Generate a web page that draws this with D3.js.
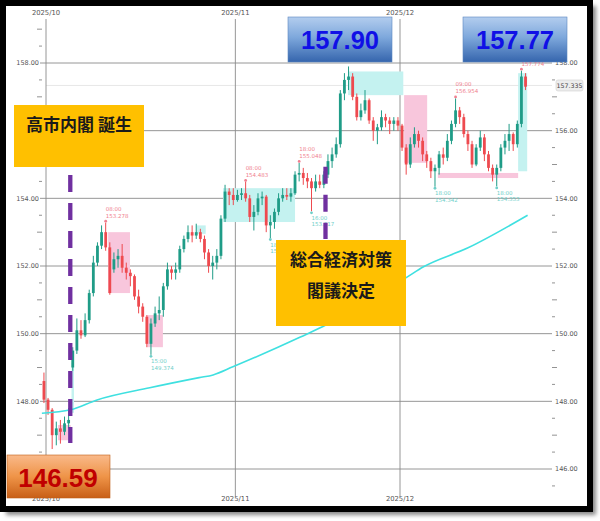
<!DOCTYPE html>
<html><head><meta charset="utf-8">
<script src="https://cdn.jsdelivr.net/npm/d3@7"></script>
<style>body{margin:0;background:#fff}svg{display:block}</style>
</head><body><svg id="c" width="600" height="521"></svg>
<script>
// ---------------- DATA ----------------
// half-day candles (trading-day units), first candle starts Sep 30 12:00
const candleStart = -0.5;
const candleStep = 0.5;
const opens  = [148.60,148.05,147.75,147.00,147.20,147.10,147.35,149.00,149.50,150.10,
                149.95,150.40,151.20,152.10,152.60,153.00,152.55,151.90,152.20,152.30,
                151.95,151.80,151.70,151.10,150.80,150.50,149.70,150.30,150.60,150.70,
                151.40,151.90,151.80,151.90,152.50,152.80,153.00,152.90,153.00,152.80,
                152.40,152.00,152.10,152.30,153.40,154.20,154.10,153.95,154.10,154.15,
                154.00,153.45,153.60,154.00,154.05,153.20,153.30,153.60,154.00,154.10,
                154.05,154.15,154.70,154.75,154.60,154.50,154.30,154.50,154.40,154.70,
                155.10,155.30,155.60,157.10,157.50,157.60,157.00,156.40,156.60,156.90,
                156.30,156.00,156.10,156.40,156.30,156.20,156.30,156.15,155.50,155.00,
                155.60,155.90,155.70,155.30,155.10,154.80,154.90,155.30,155.20,155.70,
                156.20,156.60,156.40,155.90,155.60,155.00,155.50,155.80,155.30,154.90,
                154.70,154.90,155.50,155.70,155.90,155.60,156.20,157.60];
const highs  = [148.85,148.10,147.80,147.40,147.45,147.55,147.80,149.60,150.45,150.40,
                150.60,151.30,152.30,152.70,153.20,153.278,152.70,152.40,152.50,152.65,
                152.10,151.90,151.75,151.30,150.90,150.55,150.45,150.80,151.10,151.50,
                152.10,152.00,152.10,152.60,152.90,153.20,153.20,153.25,153.10,152.90,
                152.50,152.30,152.50,153.50,154.40,154.30,154.30,154.25,154.30,154.483,
                154.10,153.80,154.15,154.20,154.10,153.50,153.70,154.15,154.30,154.30,
                154.30,154.80,155.048,154.90,154.75,154.60,154.70,154.70,154.80,155.30,
                155.50,155.80,157.20,157.70,157.898,157.70,157.10,156.80,157.20,156.95,
                156.40,156.20,156.60,156.50,156.40,156.40,156.40,156.20,155.60,155.80,
                156.10,156.00,155.80,155.40,155.20,155.00,155.40,155.50,155.90,156.30,
                156.954,156.70,156.50,156.00,155.70,155.60,156.00,155.90,155.40,155.00,
                155.00,155.60,155.90,156.20,155.95,156.30,157.774,157.70];
const lows   = [147.95,147.60,146.59,146.70,146.75,147.00,147.20,148.90,149.40,149.85,
                149.90,150.30,151.10,152.00,152.50,152.45,151.15,151.80,151.95,151.80,
                151.60,151.40,151.00,150.60,150.35,149.60,149.374,150.20,150.40,150.50,
                151.30,151.60,151.60,151.80,152.40,152.70,152.70,152.80,152.70,152.20,
                151.80,151.60,151.90,152.20,153.30,153.80,153.80,153.90,153.95,153.90,
                153.30,153.05,153.50,153.80,153.00,152.827,153.10,153.50,153.90,153.95,
                153.90,154.10,154.50,154.40,154.30,153.617,154.20,154.30,154.30,154.60,
                154.90,155.20,155.50,156.90,157.20,156.90,156.30,156.30,156.50,156.20,
                155.70,155.60,156.00,156.10,155.90,156.00,156.00,155.40,154.70,154.90,
                155.50,155.50,155.10,154.90,154.60,154.342,154.70,155.00,155.10,155.60,
                156.10,156.20,155.80,155.40,154.90,154.95,155.40,155.10,154.80,154.50,
                154.353,154.80,155.30,155.40,155.40,155.50,156.10,157.20];
const closes = [148.05,147.75,147.00,147.20,147.10,147.35,147.45,149.50,150.10,149.95,
                150.40,151.20,152.10,152.60,153.00,152.55,151.20,152.20,152.30,151.95,
                151.80,151.70,151.10,150.80,150.50,149.70,150.30,150.60,150.70,151.40,
                151.90,151.80,151.90,152.50,152.80,153.00,152.90,153.00,152.80,152.40,
                152.00,152.10,152.30,153.40,154.20,154.10,153.95,154.10,154.15,154.00,
                153.45,153.60,154.00,154.05,153.20,153.30,153.60,154.00,154.10,154.05,
                154.15,154.70,154.75,154.60,154.50,154.30,154.50,154.40,154.70,155.10,
                155.30,155.60,157.10,157.50,157.60,157.00,156.40,156.60,156.90,156.30,
                156.00,156.10,156.40,156.30,156.20,156.30,156.15,155.50,155.00,155.60,
                155.90,155.70,155.30,155.10,154.80,154.90,155.30,155.20,155.70,156.20,
                156.60,156.40,155.90,155.60,155.00,155.50,155.80,155.30,154.90,154.70,
                154.90,155.50,155.70,155.90,155.60,156.20,157.60,157.30];

// moving average (trading-day position, value)
const maDays   = [-0.5, 3.0, 6.2, 12.6, 18.6, 20.3, 22.7, 30.9, 34.1, 38.9, 43.9, 45.8, 51.2, 58.5];
const maValues = [147.65,147.75,148.04,148.40,148.70,148.78,149.02,149.90,150.27,150.95,151.68,151.97,152.53,153.50];

// month gridlines
const monthLabels = ["2025/10","2025/11","2025/12"];
const monthDays   = [0, 23, 43];

// price ticks (left labels under the callout boxes are not visible)
const majorTicks = [146,148,150,152,154,156,158];
const leftLabelTicks = [148,150,152,154,158];
const minorTicks = [145.5,146.5,147,147.5,148.5,149,149.5,150.5,151,151.5,152.5,153,153.5,154.5,155,155.5,156.5,157,157.5,158.5,159];
const currentPrice = 157.335;

// marked highs / lows
const extIdx  = [15, 26, 49, 55, 62, 65, 95, 100, 110, 116];
const extType = ["H","L","H","L","H","L","L","H","L","H"];
const extTime = ["08:00","15:00","08:00","18:00","18:00","16:00","18:00","09:00","18:00","22:00"];

// shaded zones: [startDay, endDay, top, bottom]
const zoneStart = [1.45, 3.1, 7.55, 12.3, 18.2, 21.5, 36.7, 43.5, 47.6, 57.35];
const zoneEnd   = [3.0, 3.4, 10.2, 14.2, 19.4, 30.25, 43.4, 46.3, 57.35, 58.45];
const zoneTop   = [147.30,149.14,153.00,150.55,153.20,154.30,157.75,157.05,154.75,157.70];
const zoneBot   = [146.85,147.66,151.20,149.60,152.95,153.30,157.05,155.05,154.60,154.80];
const zoneKind  = ["pink","cyan","pink","pink","cyan","cyan","cyan","pink","pink","cyan"];

// event lines (trading-day position, top price, bottom price)
const eventDays = [2.95, 33.95];
const eventTop  = [154.69, 154.93];
const eventBot  = [146.77, 152.80];

// ---------------- DRAW ----------------
const svg = d3.select("#c");
const defs = svg.append("defs");
const sh = defs.append("filter").attr("id","sh").attr("x","-5%").attr("y","-5%").attr("width","110%").attr("height","110%");
sh.append("feGaussianBlur").attr("stdDeviation", 2.2);
const gBlue = defs.append("linearGradient").attr("id","gb").attr("x1",0).attr("y1",0).attr("x2",0).attr("y2",1);
gBlue.append("stop").attr("offset","0%").attr("stop-color","#b3cdee");
gBlue.append("stop").attr("offset","45%").attr("stop-color","#7ea8dc");
gBlue.append("stop").attr("offset","100%").attr("stop-color","#3565ad");
const gOr = defs.append("linearGradient").attr("id","go").attr("x1",0).attr("y1",0).attr("x2",0).attr("y2",1);
gOr.append("stop").attr("offset","0%").attr("stop-color","#f9b98a");
gOr.append("stop").attr("offset","50%").attr("stop-color","#ef9448");
gOr.append("stop").attr("offset","100%").attr("stop-color","#c85f17");

// frame with shadow
svg.append("rect").attr("x",6).attr("y",6).attr("width",590).attr("height",509).attr("fill","#888").attr("filter","url(#sh)");
svg.append("rect").attr("x",3).attr("y",3).attr("width",587).attr("height",506).attr("fill","#fff").attr("stroke","#000").attr("stroke-width",6);

const x = d3.scaleLinear().domain([0, 43]).range([46, 400]);
const y = d3.scaleLinear().domain([146, 158]).range([469, 63]);
const plotL = 40, plotR = 552, plotT = 19, plotB = 496;
const font = "DejaVu Sans, sans-serif";

// gridlines
svg.append("g").selectAll("line").data(majorTicks).join("line")
  .attr("x1", plotL).attr("x2", plotR).attr("y1", d => y(d)).attr("y2", d => y(d))
  .attr("stroke", "#8a8a8a").attr("stroke-width", 0.9);
svg.append("line").attr("x1", plotL+6).attr("x2", plotR).attr("y1", y(currentPrice)).attr("y2", y(currentPrice))
  .attr("stroke", "#e2e2e2").attr("stroke-width", 0.8);
svg.append("g").selectAll("line").data(monthDays).join("line")
  .attr("x1", d => x(d)).attr("x2", d => x(d)).attr("y1", plotT).attr("y2", plotB)
  .attr("stroke", "#8a8a8a").attr("stroke-width", 0.9);

// minor ticks
const isWhole = d => Math.abs(d - Math.round(d)) < 1e-6;
svg.append("g").selectAll("line").data(minorTicks).join("line")
  .attr("x1", d => isWhole(d) ? 37 : 39).attr("x2", 42)
  .attr("y1", d => y(d)).attr("y2", d => y(d)).attr("stroke", "#777").attr("stroke-width", 0.8);
svg.append("g").selectAll("line").data(minorTicks).join("line")
  .attr("x1", 552).attr("x2", d => isWhole(d) ? 557 : 555)
  .attr("y1", d => y(d)).attr("y2", d => y(d)).attr("stroke", "#777").attr("stroke-width", 0.8);

// tick labels
svg.append("g").selectAll("text").data(leftLabelTicks).join("text")
  .attr("x", 39).attr("y", d => y(d)).attr("dy", "0.35em").attr("text-anchor", "end")
  .attr("font-family", font).attr("font-size", 6.5).attr("fill", "#555").text(d => d.toFixed(2));
svg.append("g").selectAll("text").data(majorTicks).join("text")
  .attr("x", 555).attr("y", d => y(d)).attr("dy", "0.35em").attr("text-anchor", "start")
  .attr("font-family", font).attr("font-size", 6.5).attr("fill", "#555").text(d => d.toFixed(2));
[15, 501].forEach(yy => {
  svg.append("g").selectAll("text").data(monthDays).join("text")
    .attr("x", d => x(d)).attr("y", yy).attr("text-anchor", "middle")
    .attr("font-family", font).attr("font-size", 6.8).attr("fill", "#555")
    .text((d, i) => monthLabels[i]);
});

// zones
const zoneFill = {pink: "#f8c6dc", cyan: "#c4f2f0"};
svg.append("g").selectAll("rect").data(zoneStart).join("rect")
  .attr("x", (d, i) => x(d)).attr("width", (d, i) => x(zoneEnd[i]) - x(d))
  .attr("y", (d, i) => y(zoneTop[i])).attr("height", (d, i) => y(zoneBot[i]) - y(zoneTop[i]))
  .attr("fill", (d, i) => zoneFill[zoneKind[i]]);

// candles
const candles = closes.map((c, i) => ({t: candleStart + i * candleStep + candleStep / 2, o: opens[i], h: highs[i], l: lows[i], c}));
const bw = (x(candleStep) - x(0)) * 0.68;
const up = "#1f9c87", dn = "#ee4a4f";
const gc = svg.append("g");
gc.selectAll("line").data(candles).join("line")
  .attr("x1", d => x(d.t)).attr("x2", d => x(d.t)).attr("y1", d => y(d.h)).attr("y2", d => y(d.l))
  .attr("stroke", d => d.c >= d.o ? up : dn).attr("stroke-width", 1);
gc.selectAll("rect").data(candles).join("rect")
  .attr("x", d => x(d.t) - bw / 2).attr("width", bw)
  .attr("y", d => y(Math.max(d.o, d.c))).attr("height", d => Math.max(1, Math.abs(y(d.o) - y(d.c))))
  .attr("fill", d => d.c >= d.o ? up : dn);

// moving average
svg.append("path").datum(maDays.map((d, i) => [d, maValues[i]]))
  .attr("d", d3.line().x(d => x(d[0])).y(d => y(d[1])).curve(d3.curveMonotoneX))
  .attr("fill", "none").attr("stroke", "#3fe0e0").attr("stroke-width", 1.6);

// extreme markers + labels
const ge = svg.append("g");
extIdx.forEach((k, i) => {
  const d = candles[k];
  const isH = extType[i] === "H";
  const v = isH ? d.h : d.l;
  const col = isH ? "#f07f8f" : "#6fcfc9";
  const yy = y(v);
  ge.append("circle").attr("cx", x(d.t)).attr("cy", isH ? yy - 1.5 : yy + 1.5).attr("r", 1.4).attr("fill", col);
  const ty1 = isH ? yy - 12 : yy + 8.5, ty2 = isH ? yy - 5 : yy + 15;
  ge.append("text").attr("x", x(d.t)).attr("y", ty1).attr("font-family", font).attr("font-size", 5.5)
    .attr("fill", col).text(extTime[i]);
  ge.append("text").attr("x", x(d.t)).attr("y", ty2).attr("font-family", font).attr("font-size", 5.5)
    .attr("fill", col).text(v.toFixed(3));
});

// event dashed lines
svg.append("g").selectAll("line").data(eventDays).join("line")
  .attr("x1", d => x(d)).attr("x2", d => x(d))
  .attr("y1", (d, i) => y(eventTop[i])).attr("y2", (d, i) => y(eventBot[i]))
  .attr("stroke", "#7030a0").attr("stroke-width", 4.3).attr("stroke-dasharray", "17,11");

// current price tag
svg.append("rect").attr("x", 556).attr("y", y(currentPrice) - 5.5).attr("width", 27).attr("height", 11).attr("rx", 2)
  .attr("fill", "#ededed").attr("stroke", "#cfcfcf").attr("stroke-width", 0.6);
svg.append("text").attr("x", 569.5).attr("y", y(currentPrice)).attr("dy", "0.35em").attr("text-anchor", "middle")
  .attr("font-family", font).attr("font-size", 6.3).attr("fill", "#444").text(currentPrice.toFixed(3));

// callouts
const jp = "'Noto Sans CJK JP', 'Noto Sans CJK SC', sans-serif";
svg.append("rect").attr("x", 14).attr("y", 105).attr("width", 130).attr("height", 62).attr("fill", "#ffc000");
svg.append("text").attr("x", 79).attr("y", 125).attr("dy", "0.36em").attr("text-anchor", "middle")
  .attr("font-family", jp).attr("font-weight", 700).attr("font-size", 17).attr("fill", "#1a1a1a").text("高市内閣 誕生");

svg.append("rect").attr("x", 276).attr("y", 240).attr("width", 130).attr("height", 86).attr("fill", "#ffc000");
svg.append("text").attr("x", 341).attr("y", 259.5).attr("dy", "0.36em").attr("text-anchor", "middle")
  .attr("font-family", jp).attr("font-weight", 700).attr("font-size", 17).attr("fill", "#1a1a1a").text("総合経済対策");
svg.append("text").attr("x", 341).attr("y", 291).attr("dy", "0.36em").attr("text-anchor", "middle")
  .attr("font-family", jp).attr("font-weight", 700).attr("font-size", 17).attr("fill", "#1a1a1a").text("閣議決定");

const valFont = "'Liberation Sans', Arial, sans-serif";
[[288, "157.90"], [463, "157.77"]].forEach(([bx, t]) => {
  svg.append("rect").attr("x", bx).attr("y", 17).attr("width", 104).attr("height", 45)
    .attr("fill", "url(#gb)").attr("stroke", "#5b86c0").attr("stroke-width", 0.6);
  svg.append("text").attr("x", bx + 52).attr("y", 40).attr("dy", "0.36em").attr("text-anchor", "middle")
    .attr("font-family", valFont).attr("font-weight", 700).attr("font-size", 25.5).attr("fill", "#1010e6").text(t);
});
svg.append("rect").attr("x", 7).attr("y", 455).attr("width", 103).attr("height", 43)
  .attr("fill", "url(#go)").attr("stroke", "#c0601a").attr("stroke-width", 0.6);
svg.append("text").attr("x", 58).attr("y", 478).attr("dy", "0.36em").attr("text-anchor", "middle")
  .attr("font-family", valFont).attr("font-weight", 700).attr("font-size", 26).attr("fill", "#c00000").text("146.59");
</script>
</body></html>
